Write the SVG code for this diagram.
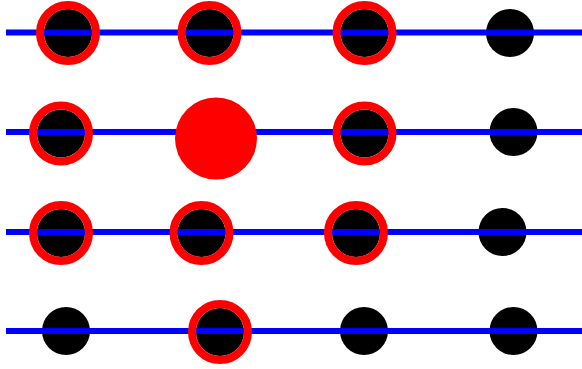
<svg xmlns="http://www.w3.org/2000/svg" width="582" height="369" viewBox="0 0 582 369">
<style>
.dot{fill:#000}
.ln{stroke:#0000ff;stroke-width:6;fill:none}
.ring{fill:none;stroke:#ff0000;stroke-width:8}
.big{fill:#ff0000}
</style>
<rect width="582" height="369" fill="#fff"/>
<g id="nodes">
<g id="n11"><circle class="dot" cx="68" cy="33" r="24"/></g>
<g id="n12"><circle class="dot" cx="209.5" cy="33" r="24"/></g>
<g id="n13"><circle class="dot" cx="364.5" cy="33" r="24"/></g>
<g id="n14"><circle class="dot" cx="510" cy="33" r="24"/></g>
<g id="n21"><circle class="dot" cx="61" cy="133.5" r="24"/></g>
<g id="n23"><circle class="dot" cx="364.5" cy="133.5" r="24"/></g>
<g id="n24"><circle class="dot" cx="513.5" cy="132" r="24"/></g>
<g id="n31"><circle class="dot" cx="61" cy="233" r="24"/></g>
<g id="n32"><circle class="dot" cx="201.5" cy="233" r="24"/></g>
<g id="n33"><circle class="dot" cx="356" cy="233" r="24"/></g>
<g id="n34"><circle class="dot" cx="502.5" cy="232" r="24"/></g>
<g id="n41"><circle class="dot" cx="66" cy="331" r="24"/></g>
<g id="n42"><circle class="dot" cx="220" cy="332" r="24"/></g>
<g id="n43"><circle class="dot" cx="364" cy="331" r="24"/></g>
<g id="n44"><circle class="dot" cx="513.5" cy="331" r="24"/></g>
</g>
<g id="connectors">
<line class="ln" x1="6" y1="32.5" x2="582" y2="32.5"/>
<line class="ln" x1="6" y1="132" x2="582" y2="132"/>
<line class="ln" x1="6" y1="232" x2="582" y2="232"/>
<line class="ln" x1="6" y1="331" x2="582" y2="331"/>
</g>
<g id="highlights">
<circle class="ring" cx="68" cy="33" r="28"/>
<circle class="ring" cx="209.5" cy="33" r="28"/>
<circle class="ring" cx="364.5" cy="33" r="28"/>
<circle class="ring" cx="61" cy="133.5" r="28"/>
<g id="n22"><circle class="big" cx="216" cy="138.5" r="41"/></g>
<circle class="ring" cx="364.5" cy="133.5" r="28"/>
<circle class="ring" cx="61" cy="233" r="28"/>
<circle class="ring" cx="201.5" cy="233" r="28"/>
<circle class="ring" cx="356" cy="233" r="28"/>
<circle class="ring" cx="220" cy="332" r="28"/>
</g>
</svg>
